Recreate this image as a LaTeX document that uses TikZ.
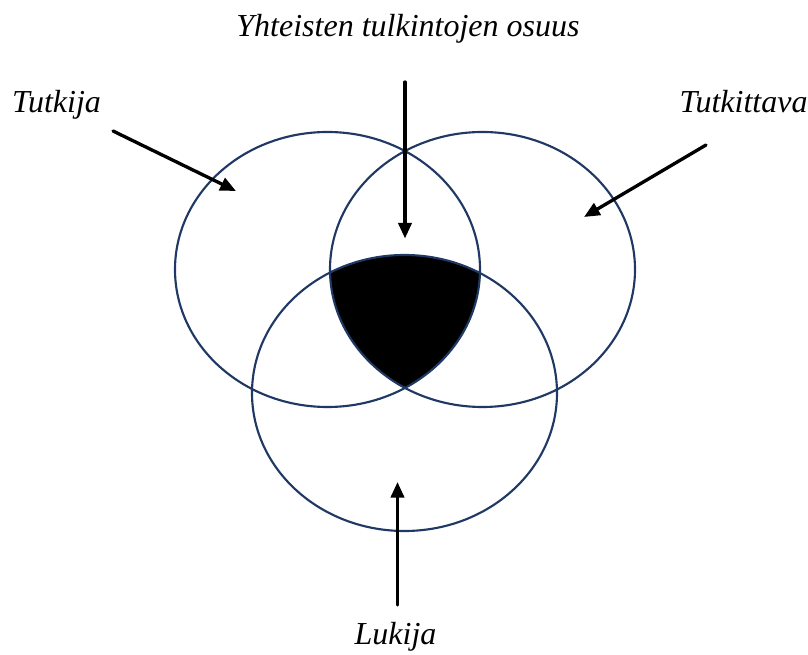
\documentclass[tikz,border=0pt]{standalone}
\usepackage{fontspec}
\setmainfont{Liberation Serif}
\usetikzlibrary{arrows.meta}
\definecolor{tummasin}{HTML}{1F3864}
\tikzset{
  kehys/.style={draw=tummasin, line width=1.6pt},
  nuoli/.style={line width=2.5pt, -{Triangle[length=11.8pt,width=10pt]}},
  teksti/.style={anchor=base, inner sep=0pt, font=\fontsize{24}{28}\selectfont\itshape}
}
\begin{document}
\begin{tikzpicture}[x=0.75pt, y=-0.75pt, line join=round, line cap=round]
\useasboundingbox (0,0) rectangle (808,655);
%Keskipisteet
\coordinate (cL) at (327.5,269.5);
\coordinate (cR) at (482.5,269.5);
\coordinate (cB) at (404.5,393);
%Yhteinen osuus
\begin{scope}
\clip (cL) ellipse [x radius=152.5, y radius=137.5];
\clip (cR) ellipse [x radius=152.5, y radius=137.5];
\fill[black] (cB) ellipse [x radius=152.5, y radius=138];
\end{scope}
%Ellipsit
\draw[kehys] (cL) ellipse [x radius=152.5, y radius=137.5]
(cR) ellipse [x radius=152.5, y radius=137.5]
(cB) ellipse [x radius=152.5, y radius=138];
%Tekstit
\node[teksti] (otsikko) at (408,36.5) {Yhteisten tulkintojen osuus};
\node[teksti] (tutkija) at (56.5,112.5) {Tutkija};
\node[teksti] (tutkittava) at (743.5,112.5) {Tutkittava};
\node[teksti] (lukija) at (395.5,645) {Lukija};
%Nuolet
\coordinate (a1) at (405,82);   \coordinate (b1) at (405,238.5);
\coordinate (a2) at (113,131);  \coordinate (b2) at (236,191);
\coordinate (a3) at (706,145);  \coordinate (b3) at (584,217);
\coordinate (a4) at (397.5,605); \coordinate (b4) at (397.5,482);
\foreach \i in {1,...,4}
\draw[nuoli] (a\i) -- (b\i);
\end{tikzpicture}
\end{document}
